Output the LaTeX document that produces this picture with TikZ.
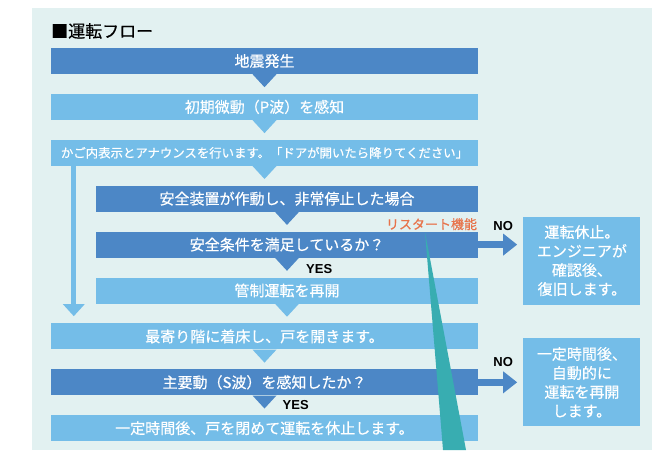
\documentclass[tikz,border=0pt]{standalone}
\usepackage{fontspec}
\setmainfont[FakeBold=0.5]{Noto Sans CJK JP}
\newfontfamily\latinbold{Liberation Sans}
\usetikzlibrary{arrows.meta, positioning}

\definecolor{flowdark}{HTML}{4C87C6}
\definecolor{flowlight}{HTML}{74BDE8}
\definecolor{panel}{HTML}{E2F1F1}
\definecolor{restart}{HTML}{E8734A}
\definecolor{callout}{HTML}{38ADB1}

% small pointer under a bar
\newcommand{\downtip}[2]{%
  \fill[#2] ([xshift=-12pt]#1.south) -- ([xshift=12pt]#1.south) -- ([yshift=-13pt]#1.south) -- cycle;}

\begin{document}
\begin{tikzpicture}[
  x=1pt, y=-1pt,
  node distance=19.5pt,
  bar/.style={minimum height=26pt, inner sep=0pt, text=white, font=\fontsize{15}{18}\selectfont},
  wide/.style={bar, minimum width=427pt},
  narrow/.style={bar, minimum width=382pt},
  outcome/.style={minimum width=117pt, minimum height=88pt, inner sep=0pt, fill=flowlight,
    text=white, align=center, font=\fontsize{15}{19}\selectfont},
  answer/.style={font=\latinbold\bfseries\fontsize{13}{15}\selectfont, inner sep=0pt},
  noarrow/.style={-{Triangle[length=14pt, width=21pt]}, line width=7pt, draw=flowdark, shorten >=6pt},
]
  \useasboundingbox (0,0) rectangle (652,450);
  \fill[panel] (32,8) rectangle (652,450);
  \node[anchor=west, inner sep=0pt, font=\fontsize{17}{19}\selectfont] (title) at (51,31) {■運転フロー};

  \node[wide, fill=flowdark] (quake) at (264.5,61) {地震発生};
  \node[wide, fill=flowlight, below=of quake] (pwave) {初期微動（P波）を感知};
  \node[wide, fill=flowlight, below=of pwave, font=\fontsize{12.4}{15}\selectfont] (announce)
    {かご内表示とアナウンスを行います。「ドアが開いたら降りてください」};
  \node[narrow, fill=flowdark, below=of announce.south east, anchor=north east] (stop) {安全装置が作動し、非常停止した場合};
  \node[narrow, fill=flowdark, below=of stop] (check) {安全条件を満足しているか？};
  \node[narrow, fill=flowlight, below=of check] (resume) {管制運転を再開};
  \node[wide, fill=flowlight, below=of resume.south east, anchor=north east] (land) {最寄り階に着床し、戸を開きます。};
  \node[wide, fill=flowdark, below=of land] (swave) {主要動（S波）を感知したか？};
  \node[wide, fill=flowlight, below=of swave] (halt) {一定時間後、戸を閉めて運転を休止します。};

  \node[outcome, right=45pt of check, yshift=-16pt] (engineer) {運転休止。\\エンジニアが\\確認後、\\復旧します。};
  \node[outcome, right=45pt of swave] (auto) {一定時間後、\\自動的に\\運転を再開\\します。};

  \downtip{quake}{flowdark}
  \downtip{pwave}{flowlight}
  \downtip{announce}{flowlight}
  \downtip{stop}{flowdark}
  \downtip{check}{flowdark}
  \downtip{resume}{flowlight}
  \downtip{land}{flowlight}
  \downtip{swave}{flowdark}

  \draw[-{Triangle[length=12pt, width=21pt]}, line width=5pt, draw=flowlight, shorten >=7pt]
    ([xshift=23pt]announce.south west) -- ([xshift=23pt]land.north west);
  \draw[noarrow] (check.east) -- (check.east -| engineer.west);
  \draw[noarrow] (swave.east) -- (auto.west);

  \node[answer, anchor=west] (yes1) at ([xshift=19pt, yshift=-11pt]check.south) {YES};
  \node[answer] (no1) at ([xshift=25pt, yshift=19pt]check.east) {NO};
  \node[answer, anchor=west] (yes2) at ([xshift=18pt, yshift=-10pt]swave.south) {YES};
  \node[answer] (no2) at ([xshift=25pt, yshift=20pt]swave.east) {NO};
  \node[anchor=south east, inner sep=1pt, text=restart, font=\fontsize{13}{15}\selectfont] (restartlbl)
    at (check.north east) {リスタート機能};

  \fill[callout] (425,232) -- (466,450) -- (443,450) -- cycle;
\end{tikzpicture}
\end{document}
